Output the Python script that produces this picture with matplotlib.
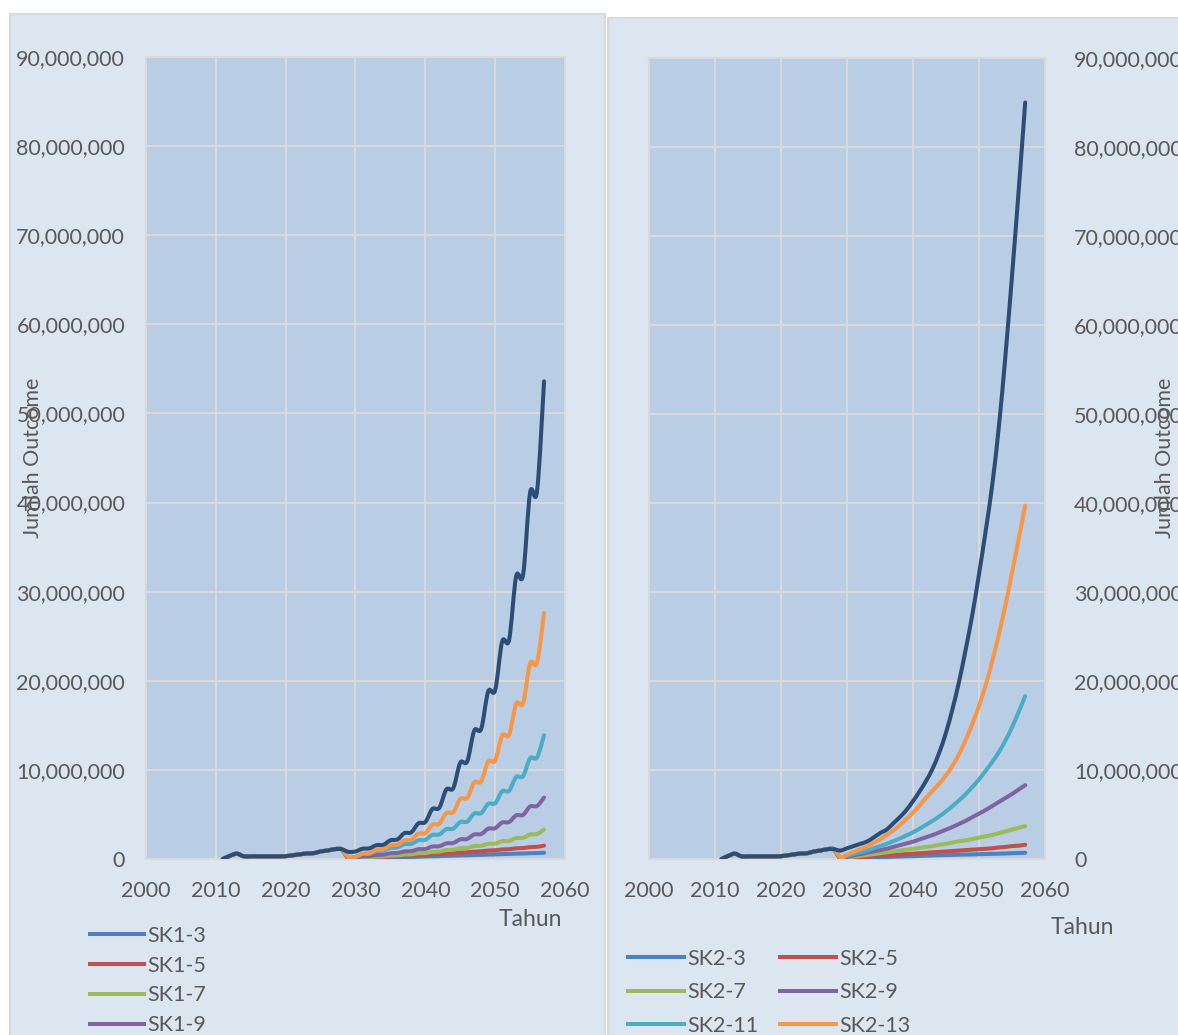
import numpy as np
import matplotlib
matplotlib.use('Agg')
import matplotlib.pyplot as plt
from matplotlib.path import Path
from matplotlib.patches import PathPatch, Rectangle
from matplotlib.lines import Line2D
from matplotlib.ticker import FuncFormatter

plt.rcParams['font.family'] = ['Lato', 'DejaVu Sans']

# tahun 2011 - 2057, nilai dalam juta
tahun = list(range(2011, 2058))
# 2011-2028 sama untuk semua skenario
awal = [0.0, 0.35, 0.6, 0.3, 0.3, 0.3, 0.3, 0.3, 0.3, 0.32, 0.42, 0.52, 0.62, 0.65, 0.85, 0.95, 1.1, 1.1]

# SK1, 2029-2057
sk1_3 = [0.03, 0.05, 0.08, 0.1, 0.12, 0.14, 0.17, 0.19, 0.21, 0.23, 0.26, 0.28, 0.3, 0.32, 0.35,
         0.37, 0.4, 0.42, 0.45, 0.47, 0.5, 0.52, 0.55, 0.57, 0.6, 0.62, 0.65, 0.67, 0.7]
sk1_5 = [0.05, 0.07, 0.12, 0.14, 0.2, 0.22, 0.28, 0.3, 0.36, 0.38, 0.45, 0.47, 0.54, 0.56, 0.63,
         0.65, 0.73, 0.75, 0.83, 0.86, 0.95, 0.98, 1.07, 1.1, 1.2, 1.23, 1.33, 1.37, 1.5]
sk1_7 = [0.08, 0.1, 0.17, 0.19, 0.27, 0.29, 0.38, 0.4, 0.5, 0.52, 0.65, 0.67, 0.8, 0.83, 1.0,
         1.03, 1.2, 1.23, 1.45, 1.48, 1.7, 1.73, 2.0, 2.03, 2.35, 2.38, 2.75, 2.8, 3.3]
sk1_9 = [0.15, 0.18, 0.3, 0.33, 0.45, 0.48, 0.65, 0.68, 0.85, 0.88, 1.1, 1.13, 1.4, 1.43, 1.75,
         1.8, 2.2, 2.25, 2.75, 2.8, 3.4, 3.45, 4.1, 4.15, 4.9, 4.95, 5.9, 5.95, 6.9]
sk1_11 = [0.2, 0.25, 0.55, 0.6, 0.9, 0.95, 1.25, 1.3, 1.65, 1.7, 2.1, 2.15, 2.7, 2.75, 3.35,
          3.4, 4.15, 4.2, 5.1, 5.15, 6.2, 6.25, 7.6, 7.65, 9.2, 9.3, 11.3, 11.4, 13.9]
sk1_13 = [0.2, 0.25, 0.6, 0.65, 1.05, 1.1, 1.55, 1.6, 2.1, 2.15, 2.85, 2.9, 3.85, 3.95, 5.15,
          5.25, 6.75, 6.85, 8.6, 8.7, 10.95, 11.05, 13.85, 13.95, 17.4, 17.5, 21.95, 22.05, 27.6]
sk1_15 = [0.8, 0.85, 1.15, 1.2, 1.55, 1.6, 2.1, 2.2, 2.9, 3.0, 4.0, 4.15, 5.6, 5.75, 7.8,
          7.95, 10.8, 10.95, 14.4, 14.6, 18.8, 18.95, 24.4, 24.6, 31.7, 31.9, 41.1, 41.3, 53.6]

# SK2, 2029-2057
sk2_3 = [0.05, 0.08, 0.1, 0.12, 0.15, 0.17, 0.2, 0.22, 0.25, 0.27, 0.3, 0.32, 0.35, 0.37, 0.4,
         0.42, 0.44, 0.46, 0.48, 0.5, 0.52, 0.54, 0.56, 0.58, 0.6, 0.62, 0.65, 0.67, 0.7]
sk2_5 = [0.05, 0.1, 0.15, 0.2, 0.25, 0.3, 0.35, 0.4, 0.45, 0.5, 0.55, 0.6, 0.65, 0.7, 0.75,
         0.8, 0.85, 0.9, 0.95, 1.0, 1.05, 1.1, 1.15, 1.2, 1.3, 1.35, 1.45, 1.5, 1.6]
sk2_7 = [0.05, 0.15, 0.25, 0.35, 0.45, 0.55, 0.65, 0.75, 0.85, 0.95, 1.05, 1.15, 1.25, 1.35, 1.45,
         1.6, 1.7, 1.85, 2.0, 2.1, 2.25, 2.4, 2.55, 2.7, 2.9, 3.1, 3.3, 3.5, 3.7]
sk2_9 = [0.1, 0.25, 0.4, 0.55, 0.7, 0.85, 1.0, 1.15, 1.35, 1.55, 1.75, 1.95, 2.2, 2.45, 2.7,
         3.0, 3.3, 3.6, 3.95, 4.3, 4.7, 5.1, 5.5, 5.95, 6.4, 6.85, 7.3, 7.8, 8.3]
sk2_11 = [0.15, 0.35, 0.55, 0.75, 0.95, 1.2, 1.45, 1.7, 2.0, 2.3, 2.65, 3.0, 3.4, 3.85, 4.3,
          4.8, 5.35, 5.95, 6.6, 7.3, 8.1, 8.95, 9.9, 10.9, 12.0, 13.3, 14.8, 16.5, 18.3]
sk2_13 = [0.2, 0.5, 0.8, 1.1, 1.4, 1.8, 2.2, 2.7, 3.2, 3.8, 4.5, 5.2, 6.0, 6.9, 7.7,
          8.5, 9.4, 10.5, 11.8, 13.4, 15.2, 17.2, 19.5, 22.2, 25.2, 28.5, 32.2, 35.9, 39.7]
sk2_15 = [0.95, 1.2, 1.45, 1.7, 1.95, 2.4, 2.9, 3.3, 4.0, 4.7, 5.5, 6.5, 7.6, 8.8, 10.2,
          12.0, 14.2, 16.9, 20.0, 23.6, 27.5, 32.0, 36.8, 42.0, 48.5, 56.5, 65.5, 75.0, 85.0]

nama = ['3', '5', '7', '9', '11', '13', '15']
sk1 = [sk1_3, sk1_5, sk1_7, sk1_9, sk1_11, sk1_13, sk1_15]
sk2 = [sk2_3, sk2_5, sk2_7, sk2_9, sk2_11, sk2_13, sk2_15]
warna = ['#4F81BD', '#C0504D', '#9BBB59', '#8064A2', '#4BACC6', '#F79646', '#2C4D75']

BG_PANEL = '#dce6f1'
BG_PLOT = '#b9cde5'
ABU = '#d9d9d9'
TEKS = '#595959'
FS = 15.5
LW = 2.9


def smooth_path(x, y):
    # garis halus ala Excel (bezier catmull-rom)
    n = len(x)
    verts = [(x[0], y[0])]
    codes = [Path.MOVETO]
    for i in range(n - 1):
        xa, ya = (x[i - 1], y[i - 1]) if i > 0 else (x[i], y[i])
        xb, yb = (x[i + 2], y[i + 2]) if i + 2 < n else (x[i + 1], y[i + 1])
        c1 = (x[i] + (x[i + 1] - xa) / 6.0, y[i] + (y[i + 1] - ya) / 6.0)
        c2 = (x[i + 1] - (xb - x[i]) / 6.0, y[i + 1] - (yb - y[i]) / 6.0)
        verts += [c1, c2, (x[i + 1], y[i + 1])]
        codes += [Path.CURVE4] * 3
    return Path(verts, codes)


def format_axes(ax, kanan=False):
    ax.set_facecolor(BG_PLOT)
    ax.set_xlim(2000, 2060)
    ax.set_ylim(0, 90e6)
    ax.set_xticks(range(2000, 2061, 10))
    ax.set_yticks(np.arange(0, 90e6 + 1, 10e6))
    ax.yaxis.set_major_formatter(FuncFormatter(lambda v, p: '{:,.0f}'.format(v)))
    ax.grid(True, color=ABU, lw=1.5)
    ax.set_axisbelow(True)
    for s in ax.spines.values():
        s.set_color(ABU)
        s.set_linewidth(1.5)
    ax.tick_params(length=0, labelsize=FS, colors=TEKS)
    ax.tick_params(axis='x', pad=16)
    if kanan:
        ax.yaxis.tick_right()
        ax.tick_params(axis='y', pad=21)
    else:
        ax.tick_params(axis='y', pad=15)


fig = plt.figure(figsize=(11.78, 10.35), dpi=100)
fig.patch.set_facecolor('white')
# latar panel
fig.patches.append(Rectangle((10 / 1178, -0.01), 595 / 1178, 1 - 14 / 1035 + 0.01, zorder=-5,
                             transform=fig.transFigure, facecolor=BG_PANEL, edgecolor=ABU, lw=1.5))
fig.patches.append(Rectangle((608 / 1178, -0.01), 580 / 1178, 1 - 18 / 1035 + 0.01, zorder=-5,
                             transform=fig.transFigure, facecolor=BG_PANEL, edgecolor=ABU, lw=1.5))

ax1 = fig.add_axes([146 / 1178, 176 / 1035, 419 / 1178, 802 / 1035])
ax2 = fig.add_axes([649 / 1178, 176 / 1035, 396 / 1178, 801 / 1035])

for ax, data, kode in [(ax1, sk1, 'SK1-'), (ax2, sk2, 'SK2-')]:
    format_axes(ax, kanan=(ax is ax2))
    handles = []
    for vals, c, nm in zip(data, warna, nama):
        y = [v * 1e6 for v in awal + vals]
        ax.add_patch(PathPatch(smooth_path(tahun, y), fill=False, edgecolor=c, lw=LW,
                               capstyle='round', joinstyle='round', zorder=3))
        handles.append(Line2D([], [], color=c, lw=LW, label=kode + nm))
    if ax is ax1:
        fig.legend(handles=handles, loc='upper left', bbox_to_anchor=(90 / 1178, 1 - 926 / 1035),
                   frameon=False, fontsize=FS, labelcolor=TEKS, handlelength=2.5,
                   handletextpad=0.15, labelspacing=0.45, borderpad=0, borderaxespad=0)
    else:
        urut = [0, 2, 4, 6, 1, 3, 5]
        fig.legend(handles=[handles[i] for i in urut], loc='upper left', ncol=2,
                   bbox_to_anchor=(628 / 1178, 1 - 949 / 1035),
                   frameon=False, fontsize=FS, labelcolor=TEKS, handlelength=2.6,
                   handletextpad=0.15, labelspacing=0.62, columnspacing=1.0,
                   borderpad=0, borderaxespad=0)

# label sumbu
fig.text(33 / 1178, 1 - 458 / 1035, 'Jumlah Outcome', rotation=90, ha='center', va='center',
         fontsize=FS, color=TEKS)
fig.text(1165 / 1178, 1 - 458 / 1035, 'Jumlah Outcome', rotation=90, ha='center', va='center',
         fontsize=FS, color=TEKS)
fig.text(530 / 1178, 1 - 919 / 1035, 'Tahun', ha='center', va='center', fontsize=FS + 1, color=TEKS)
fig.text(1082 / 1178, 1 - 928 / 1035, 'Tahun', ha='center', va='center', fontsize=FS + 1, color=TEKS)

plt.savefig('out.png', dpi=100)
plt.close(fig)
